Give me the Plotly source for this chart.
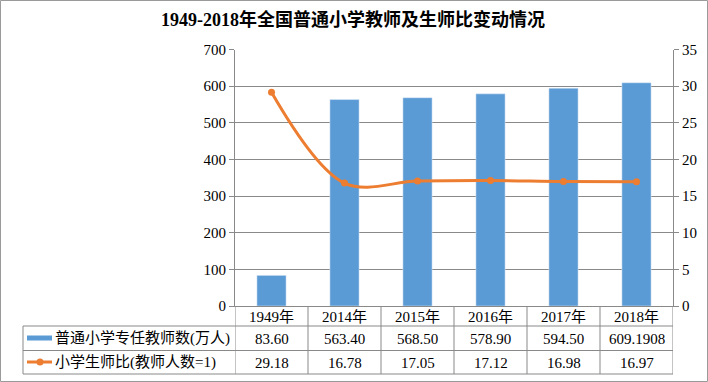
import plotly.graph_objects as go

years = ['1949年', '2014年', '2015年', '2016年', '2017年', '2018年']
teachers = [83.60, 563.40, 568.50, 578.90, 594.50, 609.1908]
teacher_labels = ['83.60', '563.40', '568.50', '578.90', '594.50', '609.1908']
ratio = [29.18, 16.78, 17.05, 17.12, 16.98, 16.97]
ratio_labels = ['29.18', '16.78', '17.05', '17.12', '16.98', '16.97']
series_names = ['普通小学专任教师数(万人)', '小学生师比(教师人数=1)']
title = '1949-2018年全国普通小学教师及生师比变动情况'

W, H = 708, 382
def px(x): return x / W
def py(y): return 1 - y / H

BLUE = '#5B9BD5'
ORANGE = '#ED7D31'
GRID = '#898989'
FONT = 'Liberation Serif, Noto Sans CJK SC'

fig = go.Figure()
fig.add_trace(go.Bar(x=years, y=teachers, marker_color=BLUE, width=0.4,
                     name=series_names[0], showlegend=False))
fig.add_trace(go.Scatter(x=years, y=ratio, yaxis='y2', mode='lines+markers',
                         line=dict(color=ORANGE, width=3, shape='spline', smoothing=1),
                         marker=dict(size=7, color=ORANGE),
                         name=series_names[1], showlegend=False))

plot_top, plot_bot = 49.5, 306
row1, row2, tbot = 326, 350.5, 374
tleft, pleft, pright = 23, 235, 673

shapes = []
line = dict(color=GRID, width=1)
# outer border
shapes.append(dict(type='rect', xref='paper', yref='paper', x0=px(0.5), x1=px(707.5),
                   y0=py(381.5), y1=py(0.5), line=dict(color='#9a9a9a', width=1)))
# table horizontal lines
for yy in (row1, row2, tbot):
    shapes.append(dict(type='line', xref='paper', yref='paper', x0=px(tleft), x1=px(pright),
                       y0=py(yy), y1=py(yy), line=line))
shapes.append(dict(type='line', xref='paper', yref='paper', x0=px(tleft), x1=px(tleft),
                   y0=py(row1), y1=py(tbot), line=line))
# category boundaries
for i in range(len(years) + 1):
    shapes.append(dict(type='line', xref='x', yref='paper', x0=i - 0.5, x1=i - 0.5,
                       y0=py(plot_bot), y1=py(tbot), line=line))
# legend keys
shapes.append(dict(type='line', xref='paper', yref='paper', x0=px(27), x1=px(52),
                   y0=py(338), y1=py(338), line=dict(color=BLUE, width=5)))
shapes.append(dict(type='line', xref='paper', yref='paper', x0=px(27), x1=px(52),
                   y0=py(362), y1=py(362), line=dict(color=ORANGE, width=3)))
shapes.append(dict(type='circle', xref='paper', yref='paper', x0=px(36.5), x1=px(43.5),
                   y0=py(365.5), y1=py(358.5), fillcolor=ORANGE, line=dict(color=ORANGE, width=0)))

ann = []
tf = dict(family=FONT, size=15, color='#000000')
common = dict(yref='paper', showarrow=False, font=tf, yanchor='middle')
for i, yr in enumerate(years):
    ann.append(dict(x=yr, y=py(316.5), xref='x', xanchor='center', text=yr, **common))
    ann.append(dict(x=yr, y=py(338.5), xref='x', xanchor='center', text=teacher_labels[i], **common))
    ann.append(dict(x=yr, y=py(362.5), xref='x', xanchor='center', text=ratio_labels[i], **common))
ann.append(dict(x=px(53), y=py(338.5), xref='paper', xanchor='left', text=series_names[0], **common))
ann.append(dict(x=px(53), y=py(362.5), xref='paper', xanchor='left', text=series_names[1], **common))

fig.update_layout(
    width=W, height=H, autosize=False, margin=dict(l=0, r=0, t=0, b=0, pad=0, autoexpand=False),
    paper_bgcolor='white', plot_bgcolor='white',
    title=dict(text='<b>' + title + '</b>', x=px(353), xanchor='center', y=py(20), yanchor='middle',
               font=dict(family=FONT, size=18, color='#000')),
    bargap=0.6,
    xaxis=dict(domain=[px(pleft), px(pright)], type='category', range=[-0.5, 5.5],
               showticklabels=False, showgrid=False, showline=True, linecolor=GRID, ticks='',
               anchor='y', automargin=False),
    yaxis=dict(domain=[py(plot_bot), py(plot_top)], range=[0, 700], dtick=100,
               showgrid=True, gridcolor=GRID, gridwidth=1, showline=True, linecolor=GRID,
               ticks='outside', ticklen=5, tickcolor=GRID, tickfont=tf, zeroline=False,
               automargin=False),
    yaxis2=dict(overlaying='y', side='right', range=[0, 35], dtick=5, showgrid=False,
                showline=True, linecolor=GRID, ticks='outside', ticklen=5, tickcolor=GRID,
                tickfont=tf, zeroline=False, anchor='x', automargin=False),
    shapes=shapes, annotations=ann, showlegend=False,
)
fig.write_html('out.html', config={'displayModeBar': False, 'responsive': False},
               post_script="document.body.style.margin='0';document.body.style.padding='0';")
